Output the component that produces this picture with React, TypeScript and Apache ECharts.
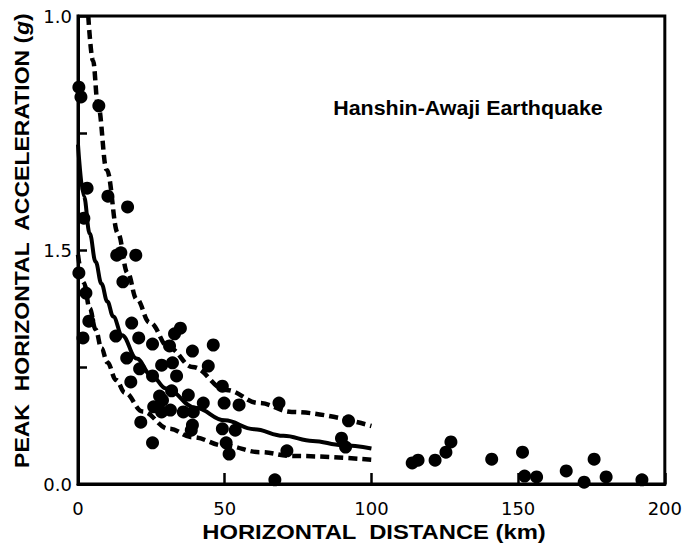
import React, { useEffect, useRef } from "react";
import * as echarts from "echarts";

// Observed data points: [distance km, PGA g]
const nearPoints: number[][] = [
  [0.3, 0.848], [1.0, 0.827], [7.1, 0.808], [3.1, 0.632], [2.0, 0.568],
  [10.2, 0.615], [16.9, 0.592], [13.2, 0.489], [14.6, 0.494], [19.7, 0.489],
  [0.3, 0.451], [2.7, 0.408], [3.7, 0.348], [1.7, 0.312], [15.3, 0.432],
  [18.3, 0.344], [12.9, 0.316], [20.7, 0.312], [25.4, 0.299], [31.2, 0.295],
  [32.9, 0.321], [34.9, 0.333], [39.0, 0.284], [46.1, 0.297], [16.6, 0.269],
  [21.0, 0.246], [25.4, 0.231], [28.5, 0.254], [32.2, 0.259], [33.6, 0.231],
  [44.4, 0.252], [18.0, 0.218], [49.2, 0.209], [27.8, 0.188], [31.9, 0.199],
  [28.8, 0.179], [37.6, 0.19], [42.7, 0.173], [49.8, 0.173], [54.9, 0.169],
  [25.8, 0.165], [28.5, 0.154], [31.5, 0.158], [35.9, 0.154], [39.3, 0.154],
  [39.0, 0.126], [38.6, 0.115], [21.4, 0.132], [49.2, 0.118], [53.6, 0.115],
  [25.4, 0.088], [50.5, 0.088], [51.5, 0.064], [68.5, 0.173], [71.2, 0.071],
  [67.1, 0.009], [92.2, 0.135], [89.8, 0.098], [91.2, 0.079],
];
const farPoints: number[][] = [
  [113.9, 0.045], [115.9, 0.051], [121.7, 0.051], [125.4, 0.068], [127.1, 0.09],
  [141.0, 0.053], [151.5, 0.068], [152.2, 0.017], [156.3, 0.015], [166.4, 0.028],
  [172.5, 0.004], [175.9, 0.053], [180.0, 0.015], [192.2, 0.009],
];

// Curves
const meanCurve: number[][] = [
  [0, 0.725], [2, 0.615], [4, 0.535], [6, 0.475], [8, 0.428], [10, 0.39],
  [12, 0.358], [15, 0.318], [20, 0.268], [25, 0.232], [30, 0.204], [40, 0.163],
  [50, 0.136], [60, 0.117], [70, 0.103], [80, 0.092], [90, 0.083], [100, 0.076],
];
const upperCurve: number[][] = [
  [3.5, 1.0], [5.1, 0.905], [6.8, 0.81], [9.8, 0.671], [13.6, 0.536],
  [16.9, 0.451], [20, 0.395], [24.4, 0.345], [31.2, 0.29], [39, 0.25],
  [50.5, 0.201], [61.7, 0.173], [72.9, 0.154], [100, 0.124],
];
const lowerCurve: number[][] = [
  [0, 0.49], [2, 0.43], [4, 0.375], [6, 0.33], [8, 0.29], [10, 0.26],
  [13, 0.222], [16, 0.195], [22, 0.155], [31, 0.118], [39, 0.1], [50, 0.082],
  [62, 0.068], [73, 0.06], [100, 0.052],
];

const yTickLabels: Record<string, string> = { "0": "0.0", "0.5": "1.5", "1": "1.0" };
const xTickLabels: Record<string, string> = { "0": "0", "50": "50", "100": "100", "150": "150", "200": "200" };

const titleText = "Hanshin-Awaji Earthquake";
const xName = "HORIZONTAL  DISTANCE (km)";

export default function App() {
  const ref = useRef<HTMLDivElement>(null);
  useEffect(() => {
    if (!ref.current) return;
    const chart = echarts.init(ref.current, undefined, { renderer: "svg" });
    const tickFont = { fontFamily: "DejaVu Sans", fontSize: 18, color: "#000" };
    const dash = { color: "#000", width: 4.5, type: [9, 5] as number[] };
    chart.setOption({
      animation: false,
      backgroundColor: "#fff",
      grid: {
        left: 78, right: 17, top: 16, bottom: 59,
        show: true, borderColor: "#000", borderWidth: 3, backgroundColor: "transparent",
      },
      xAxis: {
        type: "value", min: 0, max: 200, interval: 50,
        axisLine: { show: true, lineStyle: { color: "#000", width: 3 } },
        axisTick: { show: true, inside: true, length: 11, lineStyle: { color: "#000", width: 2.5 } },
        splitLine: { show: false },
        axisLabel: { ...tickFont, margin: 15, formatter: (v: number) => xTickLabels[String(v)] ?? "" },
      },
      yAxis: {
        type: "value", min: 0, max: 1, interval: 0.25,
        axisLine: { show: true, lineStyle: { color: "#000", width: 3 } },
        axisTick: { show: true, inside: true, length: 9, lineStyle: { color: "#000", width: 2.5 } },
        splitLine: { show: false },
        axisLabel: { ...tickFont, margin: 6, formatter: (v: number) => yTickLabels[String(v)] ?? "" },
      },
      series: [
        { type: "line", data: upperCurve, smooth: 0.4, smoothMonotone: "x", symbol: "none", lineStyle: dash, z: 2 },
        { type: "line", data: lowerCurve, smooth: 0.4, smoothMonotone: "x", symbol: "none", lineStyle: dash, z: 2 },
        { type: "line", data: meanCurve, smooth: 0.4, smoothMonotone: "x", symbol: "none", lineStyle: { color: "#000", width: 4 }, z: 2 },
        { type: "scatter", data: nearPoints.concat(farPoints), symbol: "circle", symbolSize: 13, itemStyle: { color: "#000", opacity: 1 }, z: 3 },
      ],
      graphic: [
        {
          type: "text", x: 468, y: 108, scaleX: 1.07,
          style: { text: titleText, fontFamily: "Liberation Sans", fontWeight: "bold", fontSize: 20, fill: "#000", align: "center", verticalAlign: "middle" },
        },
        {
          type: "text", x: 374, y: 532, scaleX: 1.19,
          style: { text: xName, fontFamily: "Liberation Sans", fontWeight: "bold", fontSize: 20, fill: "#000", align: "center", verticalAlign: "middle" },
        },
        {
          type: "text", x: 22, y: 241, rotation: Math.PI / 2, scaleX: 1.15,
          style: {
            text: "{a|PEAK  HORIZONTAL  ACCELERATION (}{b|g}{a|)}",
            align: "center", verticalAlign: "middle", fill: "#000",
            rich: {
              a: { fontFamily: "Liberation Sans", fontWeight: "bold", fontSize: 20, fill: "#000" },
              b: { fontFamily: "Liberation Sans", fontWeight: "bold", fontStyle: "italic", fontSize: 20, fill: "#000" },
            },
          },
        },
      ],
    });
    return () => chart.dispose();
  }, []);
  return <div ref={ref} style={{ position: "absolute", left: 0, top: 0, width: 685, height: 543 }} />;
}
